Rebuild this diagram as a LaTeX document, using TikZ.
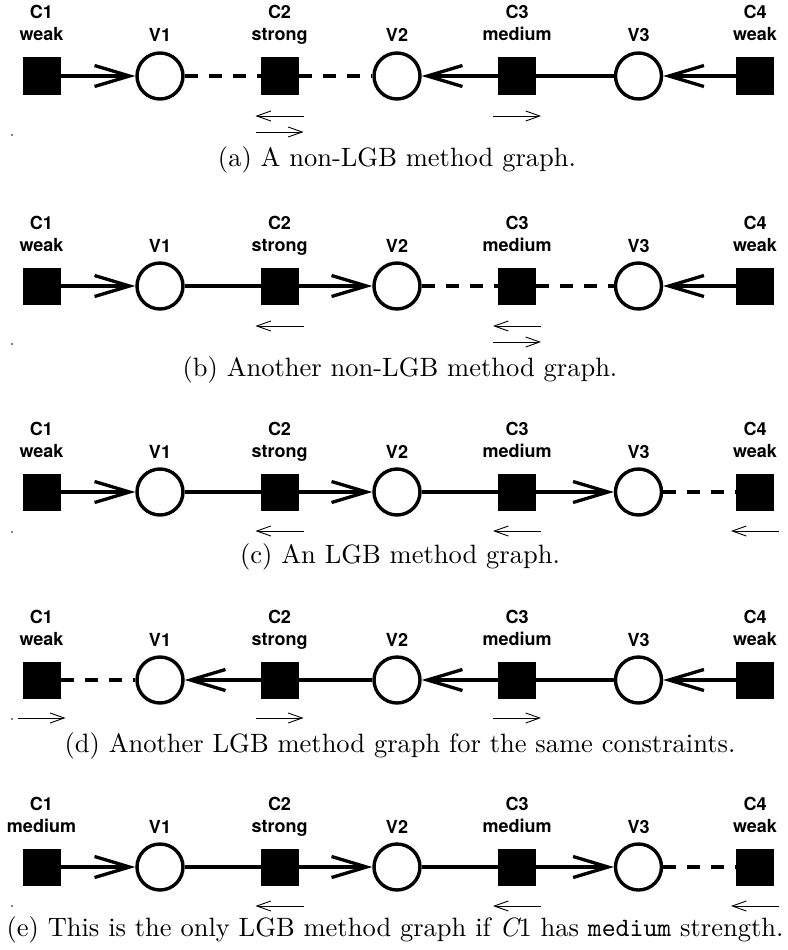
\documentclass[tikz,border=0pt]{standalone}
\usepackage{fontspec}
\newfontfamily\labfont{TeX Gyre Heros}
\usetikzlibrary{arrows.meta}
\newcommand\captext[1]{\scalebox{2.65}{\fontsize{10}{12}\selectfont #1}}
\tikzset{
  cons/.style={fill=black, draw=none, minimum width=38pt, minimum height=37pt, inner sep=0pt, outer sep=0pt},
  var/.style={circle, draw=black, fill=white, line width=3.4pt, minimum size=46pt, inner sep=0pt},
  conn/.style={line width=3.3pt},
  arr/.style={conn, -{Straight Barb[length=35pt,width=21pt]}},
  freeline/.style={conn, dash pattern=on 13pt off 11pt},
  hint/.style={line width=0.9pt, -{Straight Barb[length=14pt,width=10pt]}},
  lab/.style={font=\labfont\fontsize{18}{21}\selectfont\bfseries, inner sep=0pt, anchor=base},
  capt/.style={inner sep=0pt, anchor=base},
  dotm/.style={circle, fill=black, inner sep=0pt, minimum size=1.6pt},
}
\newcommand\gRow[3]{%
  \node[cons] (#1c1) at (41.5,#2) {};
  \node[var]  (#1v1) at (160,#2) {};
  \node[cons] (#1c2) at (279.5,#2) {};
  \node[var]  (#1v2) at (397,#2) {};
  \node[cons] (#1c3) at (517,#2) {};
  \node[var]  (#1v3) at (638.5,#2) {};
  \node[cons] (#1c4) at (755,#2) {};
  \node[lab] (#1c1n) at (41.5,{#2-57}) {C1};
  \node[lab] (#1c1s) at (41.5,{#2-35}) {#3};
  \node[lab] (#1v1n) at (160,{#2-34}) {V1};
  \node[lab] (#1c2n) at (279.5,{#2-57}) {C2};
  \node[lab] (#1c2s) at (279.5,{#2-35}) {strong};
  \node[lab] (#1v2n) at (397,{#2-34}) {V2};
  \node[lab] (#1c3n) at (517,{#2-57}) {C3};
  \node[lab] (#1c3s) at (517,{#2-35}) {medium};
  \node[lab] (#1v3n) at (638.5,{#2-34}) {V3};
  \node[lab] (#1c4n) at (755,{#2-57}) {C4};
  \node[lab] (#1c4s) at (755,{#2-35}) {weak};
}
\newcommand\hintL[2]{\draw[hint] ([shift={(24,#2)}]#1.center) -- ([shift={(-24,#2)}]#1.center);}
\newcommand\hintR[2]{\draw[hint] ([shift={(-24,#2)}]#1.center) -- ([shift={(24,#2)}]#1.center);}
\begin{document}
\begin{tikzpicture}[x=1pt,y=-1pt]
\useasboundingbox (0,0) rectangle (787,950);
% (a)
\gRow{a}{76}{weak}
\draw[arr]  (ac1) -- (av1);
\draw[freeline] (av1) -- (ac2);
\draw[freeline] (ac2) -- (av2);
\draw[arr]  (ac3) -- (av2);
\draw[conn] (ac3) -- (av3);
\draw[arr]  (ac4) -- (av3);
\hintL{ac2}{40}\hintR{ac2}{56}\hintR{ac3}{40}
\node[dotm] (adot) at (12,135) {};
\node[capt] (acap) at (397,166) {\captext{(a) A non-LGB method graph.}};
% (b)
\gRow{b}{286}{weak}
\draw[arr]  (bc1) -- (bv1);
\draw[conn] (bv1) -- (bc2);
\draw[arr]  (bc2) -- (bv2);
\draw[freeline] (bv2) -- (bc3);
\draw[freeline] (bc3) -- (bv3);
\draw[arr]  (bc4) -- (bv3);
\hintL{bc2}{40}\hintL{bc3}{40}\hintR{bc3}{56}
\node[dotm] (bdot) at (12,344) {};
\node[capt] (bcap) at (400,376) {\captext{(b) Another non-LGB method graph.}};
% (c)
\gRow{c}{492}{weak}
\draw[arr]  (cc1) -- (cv1);
\draw[conn] (cv1) -- (cc2);
\draw[arr]  (cc2) -- (cv2);
\draw[conn] (cv2) -- (cc3);
\draw[arr]  (cc3) -- (cv3);
\draw[freeline] (cv3) -- (cc4);
\hintL{cc2}{39}\hintL{cc3}{39}\hintL{cc4}{39}
\node[dotm] (cdot) at (12,532) {};
\node[capt] (ccap) at (400,563) {\captext{(c) An LGB method graph.}};
% (d)
\gRow{d}{680}{weak}
\draw[freeline] (dc1) -- (dv1);
\draw[arr]  (dc2) -- (dv1);
\draw[conn] (dc2) -- (dv2);
\draw[arr]  (dc3) -- (dv2);
\draw[conn] (dc3) -- (dv3);
\draw[arr]  (dc4) -- (dv3);
\hintR{dc1}{38}\hintR{dc2}{38}\hintR{dc3}{38}
\node[dotm] (ddot) at (12,719) {};
\node[capt] (dcap) at (400,752) {\captext{(d) Another LGB method graph for the same constraints.}};
% (e)
\gRow{e}{867}{medium}
\draw[arr]  (ec1) -- (ev1);
\draw[conn] (ev1) -- (ec2);
\draw[arr]  (ec2) -- (ev2);
\draw[conn] (ev2) -- (ec3);
\draw[arr]  (ec3) -- (ev3);
\draw[freeline] (ev3) -- (ec4);
\hintL{ec2}{39}\hintL{ec3}{39}\hintL{ec4}{39}
\node[dotm] (edot) at (12,906) {};
\node[capt] (ecap) at (395,936) {\captext{(e) This is the only LGB method graph if {\itshape C}1 has \texttt{medium} strength.}};
\end{tikzpicture}
\end{document}
